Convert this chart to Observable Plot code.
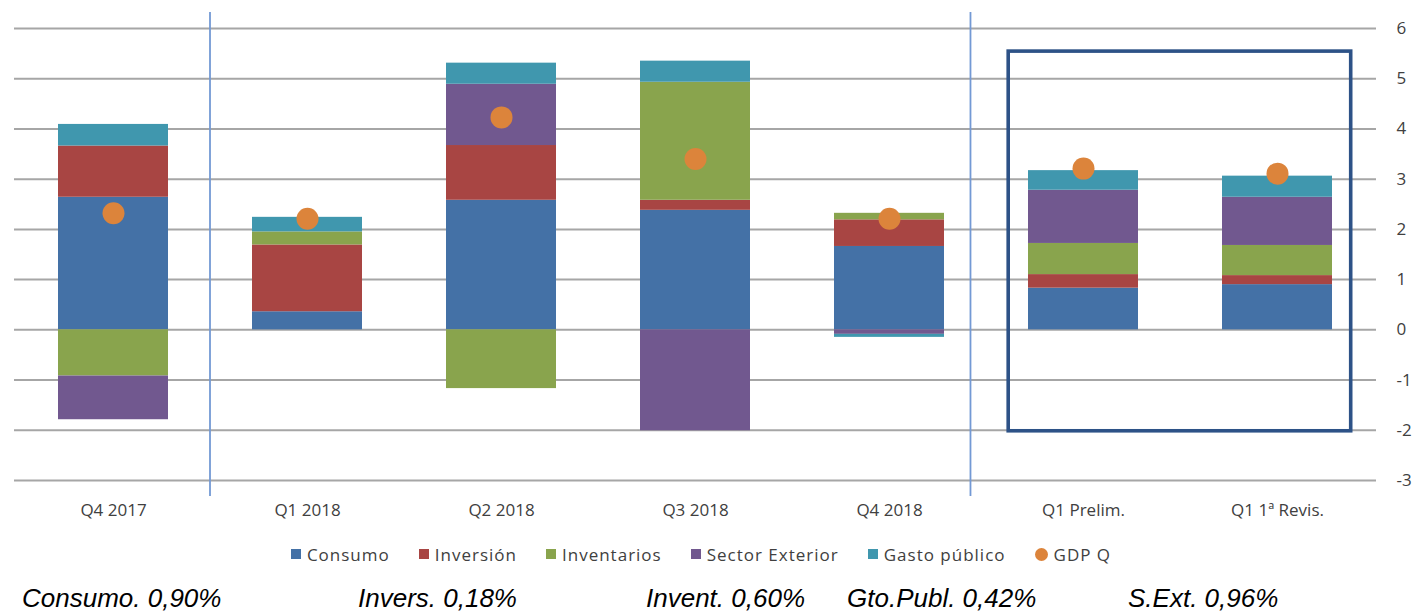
<!DOCTYPE html>
<html>
<head>
<meta charset="utf-8">
<script src="https://cdn.jsdelivr.net/npm/d3@7"></script>
<script src="https://cdn.jsdelivr.net/npm/@observablehq/plot@0.6"></script>
<style>
  body { margin: 0; background: #fff; }
  #wrap { position: relative; width: 1415px; height: 612px; overflow: hidden; font-family: "Open Sans", sans-serif; }
  #chart { position: absolute; left: 0; top: 0; }
  #legend { position: absolute; left: 0; top: 542px; width: 1402px; height: 24px; display: flex; justify-content: center; align-items: center; gap: 29px; font-size: 17px; letter-spacing: 1px; color: #404040; white-space: nowrap; }
  #legend .item { display: flex; align-items: center; gap: 6px; }
  #legend .sw { width: 10px; height: 10px; display: inline-block; }
  #legend .dot { width: 13px; height: 13px; border-radius: 50%; display: inline-block; }
  #foot span { position: absolute; top: 583px; font-family: "Liberation Sans", Arial, sans-serif; font-style: italic; font-size: 26px; color: #000; white-space: nowrap; }
</style>
</head>
<body>
<div id="wrap">
  <div id="chart"></div>
  <div id="legend"></div>
  <div id="foot"></div>
</div>
<script>
// ---------- data ----------
const quarters = ["Q4 2017", "Q1 2018", "Q2 2018", "Q3 2018", "Q4 2018", "Q1 Prelim.", "Q1 1ª Revis."];
const components = ["Consumo", "Inversión", "Inventarios", "Sector Exterior", "Gasto público"];
const consumo        = [2.64, 0.36, 2.58, 2.38, 1.66, 0.83, 0.90];
const inversion      = [1.02, 1.33, 1.09, 0.20, 0.53, 0.27, 0.18];
const inventarios    = [-0.92, 0.26, -1.17, 2.35, 0.13, 0.62, 0.60];
const sectorExterior = [-0.87, 0.00, 1.22, -2.01, -0.09, 1.06, 0.96];
const gastoPublico   = [0.43, 0.29, 0.42, 0.42, -0.06, 0.39, 0.42];
const gdpQ           = [2.32, 2.21, 4.23, 3.40, 2.21, 3.21, 3.11];
const gdpLabel = "GDP Q";
const yTicks = [-3, -2, -1, 0, 1, 2, 3, 4, 5, 6];
const footnotes = ["Consumo. 0,90%", "Invers. 0,18%", "Invent. 0,60%", "Gto.Publ. 0,42%", "S.Ext. 0,96%"];
const separatorsAfter = ["Q4 2017", "Q4 2018"];
const boxQuarters = ["Q1 Prelim.", "Q1 1ª Revis."];
const boxRange = [-2.02, 5.54];

// ---------- styles ----------
const componentColors = ["#4471a6", "#a84543", "#89a44d", "#71588f", "#4097ae"];
const gdpColor = "#dc843b";

const seriesValues = [consumo, inversion, inventarios, sectorExterior, gastoPublico];
const rows = [];
quarters.forEach((q, i) => {
  components.forEach((c, j) => rows.push({quarter: q, component: c, value: seriesValues[j][i]}));
});
const gdpRows = quarters.map((q, i) => ({quarter: q, value: gdpQ[i]}));

// annotation layer: separator lines and highlight box, positioned through Plot's scales
const sepFrac = [0.5, 0.42];
function annotations(index, scales) {
  const x = scales.x, y = scales.y;
  const bw = x.bandwidth(), step = x.step();
  const g = d3.create("svg:g");
  separatorsAfter.forEach((q, k) => {
    const px = x(q) + bw / 2 + sepFrac[k] * step;
    g.append("line")
      .attr("x1", px).attr("x2", px)
      .attr("y1", y(6) - 16).attr("y2", y(-3) + 16)
      .attr("stroke", "#7399d4").attr("stroke-width", 1.8);
  });
  const bx1 = x(boxQuarters[0]) - 0.18 * bw;
  const bx2 = x(boxQuarters[1]) + bw + 0.17 * bw;
  g.append("rect")
    .attr("x", bx1).attr("y", y(boxRange[1]))
    .attr("width", bx2 - bx1).attr("height", y(boxRange[0]) - y(boxRange[1]))
    .attr("fill", "none").attr("stroke", "#2d5287").attr("stroke-width", 3.6);
  return g.node();
}

const plot = Plot.plot({
  width: 1415,
  height: 530,
  marginLeft: 14,
  marginRight: 39,
  marginTop: 28,
  marginBottom: 50,
  style: {fontFamily: "Open Sans, sans-serif", fontSize: "17px", color: "#404040", background: "#fff"},
  x: {type: "band", domain: quarters, paddingInner: 0.434, paddingOuter: 0.217, label: null, tickSize: 0, tickPadding: 23},
  y: {domain: [-3, 6], axis: "right", ticks: yTicks, tickFormat: d => String(d).replace("−", "-"), tickSize: 0, tickPadding: 20, label: null},
  color: {domain: components, range: componentColors},
  marks: [
    Plot.ruleY(yTicks, {stroke: "#a6a6a6", strokeWidth: 2}),
    Plot.barY(rows, Plot.stackY({x: "quarter", y: "value", fill: "component", order: components})),
    Plot.dot(gdpRows, {x: "quarter", y: "value", r: 11, fill: gdpColor}),
    annotations
  ]
});
document.getElementById("chart").appendChild(plot);

// legend
const legend = document.getElementById("legend");
components.forEach((c, j) => {
  const it = document.createElement("div");
  it.className = "item";
  it.innerHTML = `<span class="sw" style="background:${componentColors[j]}"></span><span>${c}</span>`;
  legend.appendChild(it);
});
const gi = document.createElement("div");
gi.className = "item";
gi.innerHTML = `<span class="dot" style="background:${gdpColor}"></span><span>${gdpLabel}</span>`;
legend.appendChild(gi);

// footnotes
const footX = [22, 358, 646, 847, 1128];
const foot = document.getElementById("foot");
footnotes.forEach((t, i) => {
  const s = document.createElement("span");
  s.textContent = t;
  s.style.left = footX[i] + "px";
  foot.appendChild(s);
});
</script>
</body>
</html>
